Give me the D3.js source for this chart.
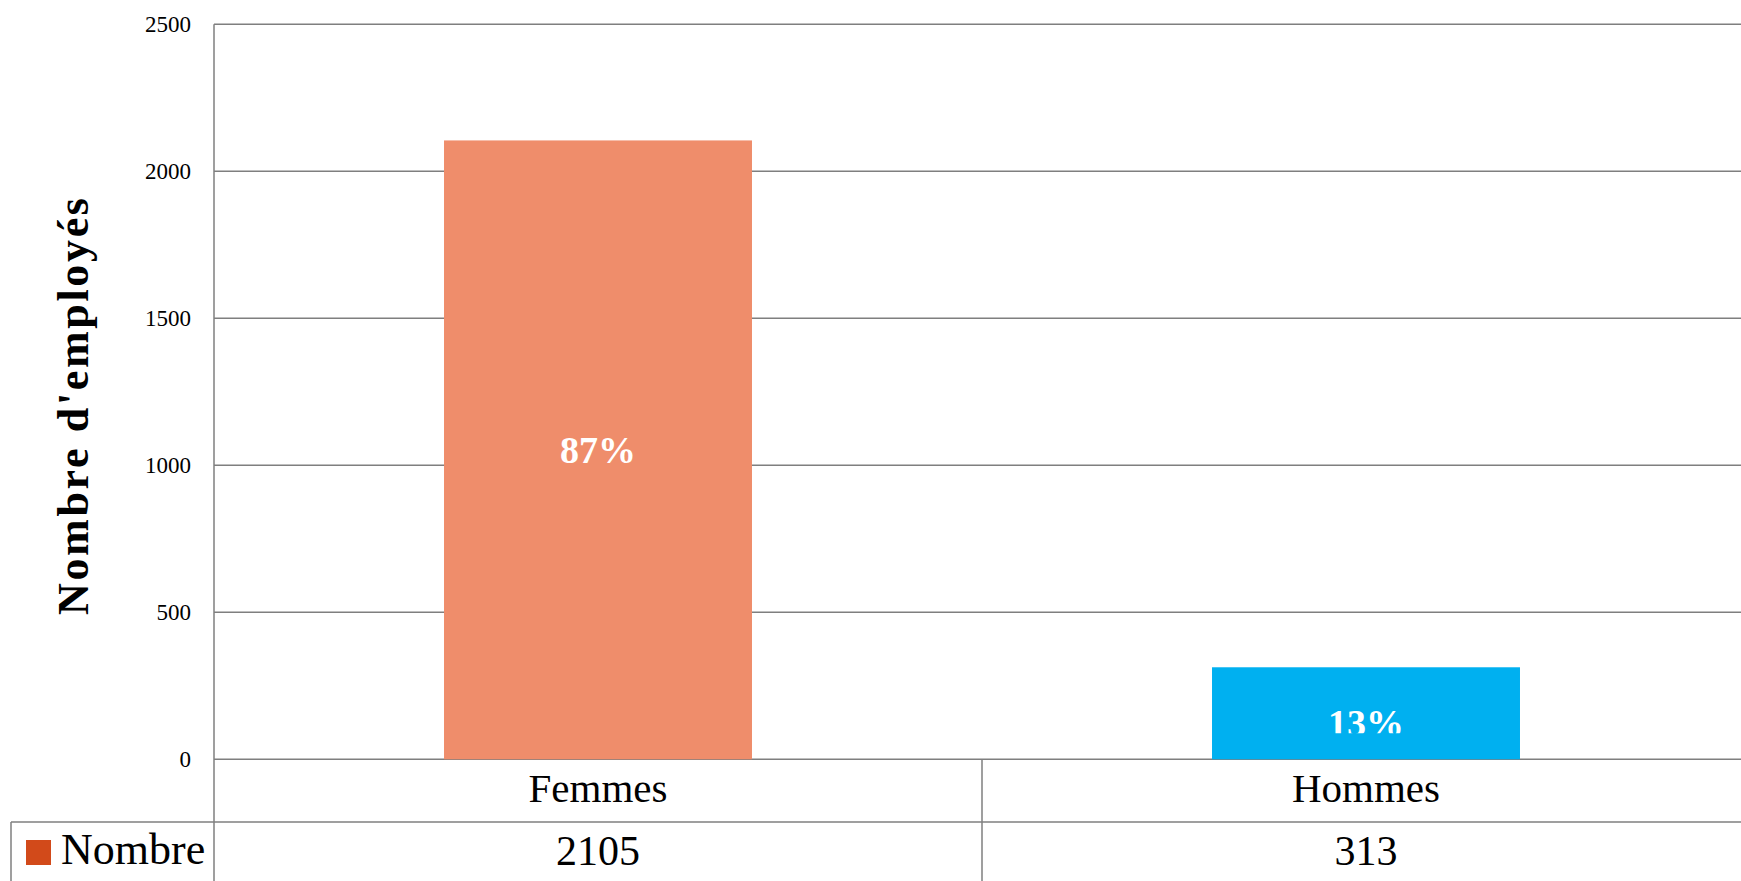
<!DOCTYPE html>
<html>
<head>
<meta charset="utf-8">
<script src="https://cdn.jsdelivr.net/npm/d3@7"></script>
<style>
  body { margin: 0; background: #fff; }
  svg { display: block; font-family: "Liberation Serif", "Times New Roman", serif; }
  .grid line, .table-line { stroke: #7f7f7f; stroke-width: 1.5; }
</style>
</head>
<body>
<div id="wrapper"></div>
<script>
// 1. Data

const categories = ["Femmes", "Hommes"]
const values = [2105, 313]
const shares = ["87%", "13%"]
const barColors = ["#ef8d6b", "#00b0f0"]
const yTicks = [0, 500, 1000, 1500, 2000, 2500]
const seriesName = "Nombre"
const seriesColor = "#d24a1a"

// 2. Dimensions

const dimensions = {
  width: 1741,
  height: 881,
  plotLeft: 214,
  plotRight: 1750,
  plotTop: 24.3,
  plotBottom: 759.3,
  tableRow: 822,
  tableLeft: 11,
}

// 3. Canvas

const svg = d3.select("#wrapper")
  .append("svg")
    .attr("width", dimensions.width)
    .attr("height", dimensions.height)

// 4. Scales

const xScale = d3.scaleBand()
  .domain(categories)
  .range([dimensions.plotLeft, dimensions.plotRight])
  .padding(0)

const yScale = d3.scaleLinear()
  .domain([0, 2500])
  .range([dimensions.plotBottom, dimensions.plotTop])

const barWidth = xScale.bandwidth() * 0.401

// gridlines
const grid = svg.append("g").attr("class", "grid")
grid.selectAll("line")
  .data(yTicks)
  .enter().append("line")
    .attr("x1", dimensions.plotLeft)
    .attr("x2", dimensions.width)
    .attr("y1", d => yScale(d))
    .attr("y2", d => yScale(d))

// tick labels
svg.append("g").selectAll("text")
  .data(yTicks)
  .enter().append("text")
    .attr("x", dimensions.plotLeft - 23)
    .attr("y", d => yScale(d))
    .attr("dy", "0.35em")
    .attr("text-anchor", "end")
    .style("font-size", "23px")
    .text(d => d)

// 5. Bars

const bars = svg.append("g")
bars.selectAll("rect")
  .data(values)
  .enter().append("rect")
    .attr("x", (d, i) => xScale(categories[i]) + (xScale.bandwidth() - barWidth) / 2)
    .attr("width", barWidth)
    .attr("y", d => yScale(d))
    .attr("height", d => yScale(0) - yScale(d))
    .attr("fill", (d, i) => barColors[i])

// label clip (the small bar's label is cut at its bottom)
svg.append("defs").append("clipPath")
    .attr("id", "label-clip")
  .append("rect")
    .attr("x", 0)
    .attr("y", 0)
    .attr("width", dimensions.width)
    .attr("height", yScale(0) - 26)

svg.append("g")
    .attr("clip-path", "url(#label-clip)")
  .selectAll("text")
  .data(values)
  .enter().append("text")
    .attr("x", (d, i) => xScale(categories[i]) + xScale.bandwidth() / 2)
    .attr("y", (d, i) => (yScale(d) + yScale(0)) / 2 + (i == 1 ? 9 : 0))
    .attr("dy", "0.35em")
    .attr("text-anchor", "middle")
    .attr("fill", "#fff")
    .style("font-size", "38px")
    .style("font-weight", "bold")
    .text((d, i) => shares[i])

// 6. Axis + data table

svg.append("line")
    .attr("class", "table-line")
    .attr("x1", dimensions.plotLeft).attr("x2", dimensions.plotLeft)
    .attr("y1", dimensions.plotTop).attr("y2", dimensions.height)

svg.append("line")
    .attr("class", "table-line")
    .attr("x1", dimensions.tableLeft).attr("x2", dimensions.width)
    .attr("y1", dimensions.tableRow).attr("y2", dimensions.tableRow)

svg.append("line")
    .attr("class", "table-line")
    .attr("x1", dimensions.tableLeft).attr("x2", dimensions.tableLeft)
    .attr("y1", dimensions.tableRow).attr("y2", dimensions.height)

svg.append("g").selectAll("line")
  .data(categories.slice(1))
  .enter().append("line")
    .attr("class", "table-line")
    .attr("x1", d => xScale(d)).attr("x2", d => xScale(d))
    .attr("y1", yScale(0)).attr("y2", dimensions.height)

svg.append("g").selectAll("text")
  .data(categories)
  .enter().append("text")
    .attr("x", d => xScale(d) + xScale.bandwidth() / 2)
    .attr("y", 802)
    .attr("text-anchor", "middle")
    .style("font-size", "41px")
    .text(d => d)

svg.append("g").selectAll("text")
  .data(values)
  .enter().append("text")
    .attr("x", (d, i) => xScale(categories[i]) + xScale.bandwidth() / 2)
    .attr("y", 865)
    .attr("text-anchor", "middle")
    .style("font-size", "42px")
    .text(d => d)

// legend key in table
svg.append("rect")
    .attr("x", 26)
    .attr("y", 840)
    .attr("width", 25)
    .attr("height", 25)
    .attr("fill", seriesColor)

svg.append("text")
    .attr("x", 61)
    .attr("y", 864)
    .style("font-size", "44px")
    .text(seriesName)

// y axis title
svg.append("text")
    .attr("transform", `translate(88, ${(198 + 615) / 2}) rotate(-90)`)
    .attr("text-anchor", "middle")
    .attr("textLength", 417)
    .attr("lengthAdjust", "spacing")
    .style("font-size", "44px")
    .style("font-weight", "bold")
    .text("Nombre d'employés")
</script>
</body>
</html>
